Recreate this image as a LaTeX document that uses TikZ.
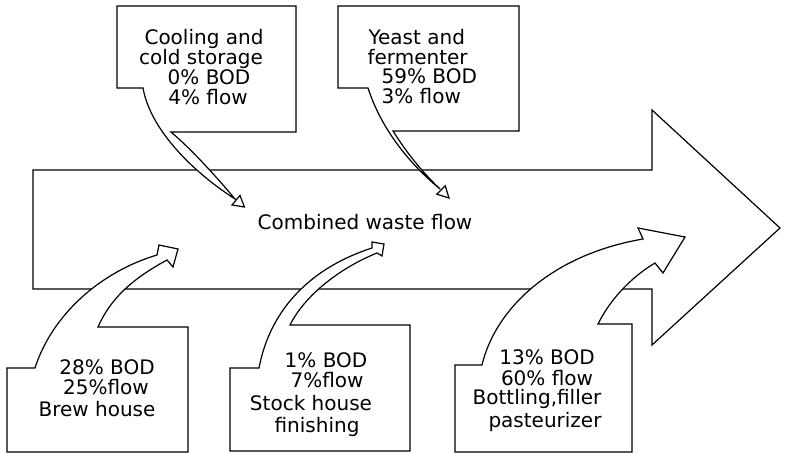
\documentclass[tikz,border=0pt]{standalone}
\usepackage{fontspec}
\setmainfont{DejaVu Sans}
\begin{document}
\begin{tikzpicture}[x=1pt,y=-1pt, line width=1.2pt, line join=miter,
  outl/.style={draw=black, fill=white},
  lbl/.style={font=\fontsize{20}{20}\selectfont, anchor=base, inner sep=0pt},
  lblw/.style={lbl, anchor=base west}]
\useasboundingbox (0,0) rectangle (785,454);
% main combined flow arrow
\draw[outl] (33,170) -- (652,170) -- (652,110) -- (780,228) -- (652,345) -- (652,289) -- (33,289) -- cycle;
% cooling and cold storage
\draw[outl] (117,6) -- (296,6) -- (296,132) -- (171,132)
  .. controls (190,148) and (215,175) .. (235,199)
  .. controls (190,170) and (150,128) .. (143,88) -- (117,88) -- cycle;
\draw[outl] (232,205) -- (244.4,207) -- (240,195.4) -- cycle;
% yeast and fermenter
\draw[outl] (338,6) -- (519,6) -- (519,131) -- (393,131)
  .. controls (405,150) and (420,170) .. (440,189)
  .. controls (405,160) and (380,125) .. (368,88) -- (338,88) -- cycle;
\draw[outl] (436.8,194.2) -- (449,198) -- (445.2,185.8) -- cycle;
% brew house
\draw[outl] (7,368) -- (35,368) .. controls (52,315) and (100,272) .. (157,255)
  -- (159,245) -- (178,249) -- (173,267) -- (167,260)
  .. controls (130,280) and (110,300) .. (98,327) -- (188,327) -- (188,452) -- (7,452) -- cycle;
% stock house
\draw[outl] (230,368) -- (259,368) .. controls (270,310) and (310,268) .. (372,248)
  -- (372,242) -- (384,244) -- (382,256) -- (377,253)
  .. controls (340,268) and (305,295) .. (290,325) -- (410,325) -- (410,451) -- (230,451) -- cycle;
% bottling
\draw[outl] (455,365) -- (482,365) .. controls (495,310) and (550,255) .. (643,239)
  -- (638,228) -- (685,237) -- (663,273) -- (655,263)
  .. controls (630,278) and (610,300) .. (598,324) -- (632,324) -- (632,452) -- (455,452) -- cycle;
% texts
\node[lbl] (cw) at (365,230) {Combined waste flow};
\node[lbl] (c1) at (204,45) {Cooling and};
\node[lbl] (c2) at (201,65) {cold storage};
\node[lbl] (c3) at (209,85) {0\% BOD};
\node[lbl] (c4) at (208,105) {4\% flow};
\node[lblw] (y1) at (368,45) {Yeast and};
\node[lblw] (y2) at (367,65) {fermenter};
\node[lblw] (y3) at (381,84) {59\% BOD};
\node[lblw] (y4) at (381,104) {3\% flow};
\node[lbl] (b1) at (107,375) {28\% BOD};
\node[lbl] (b2) at (106,395) {25\%flow};
\node[lbl] (b3) at (97,417) {Brew house};
\node[lbl] (s1) at (326,368) {1\% BOD};
\node[lbl] (s2) at (327,388) {7\%flow};
\node[lbl] (s3) at (311,410) {Stock house};
\node[lbl] (s4) at (317,432) {finishing};
\node[lbl] (p1) at (547,365) {13\% BOD};
\node[lbl] (p2) at (547,385) {60\% flow};
\node[lbl] (p3) at (537,405) {Bottling,filler};
\node[lbl] (p4) at (545,428) {pasteurizer};
\end{tikzpicture}
\end{document}
